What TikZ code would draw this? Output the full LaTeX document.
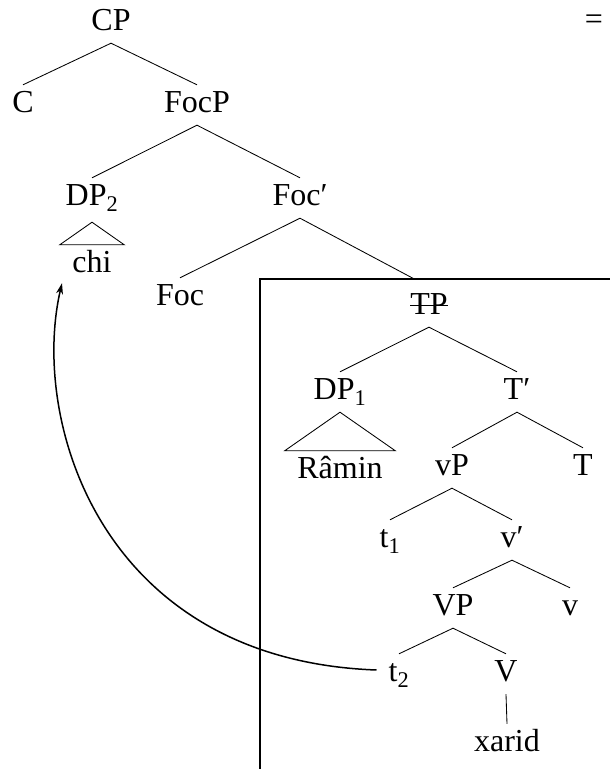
\documentclass[tikz,border=0pt]{standalone}
\usepackage{fontspec}
\setmainfont{Liberation Serif}
\usetikzlibrary{arrows.meta,calc}
\begin{document}
\begin{tikzpicture}[x=1pt,y=-1pt,
  lab/.style={inner xsep=0pt, inner ysep=6pt, text height=21pt, text depth=7pt, anchor=base, font=\fontsize{32}{38}\selectfont},
  edge/.style={line width=0.85pt},
  tri/.style={line width=0.85pt},
  boxline/.style={line width=1.1pt},
  move/.style={line width=1.5pt, -{Stealth[length=11pt,width=7pt]}}]
\useasboundingbox (0,0) rectangle (610,769);
% nodes
\node[lab] (CP) at (111,30) {CP};
\node[lab] (eq) at (594,29) {=};
\node[lab] (C) at (23,112) {C};
\node[lab] (FocP) at (197,112) {FocP};
\node[lab] (DPtwo) at (92,205) {DP\textsubscript{2}};
\node[lab] (Focbar) at (300,205) {Foc′};
\node[lab] (chi) at (92,272) {chi};
\node[lab] (Foc) at (180,305) {Foc};
\node[lab] (TP) at (429,314) {TP};
\node[lab] (DPone) at (340,399) {DP\textsubscript{1}};
\node[lab] (Tbar) at (517,399) {T′};
\node[lab] (Ramin) at (340,478) {Râmin};
\node[lab] (vP) at (452,475) {vP};
\node[lab] (T) at (583,475) {T};
\node[lab] (tone) at (390,547) {t\textsubscript{1}};
\node[lab] (vbar) at (512,547) {v′};
\node[lab] (VP) at (453,615) {VP};
\node[lab] (v) at (570,615) {v};
\node[lab] (ttwo) at (399,681) {t\textsubscript{2}};
\node[lab] (V) at (506,681) {V};
\node[lab] (xarid) at (507,751) {xarid};
% box
\draw[boxline] (260,769) -- (260,279) -- (610,279);
% edges
\draw[edge] (C.north) -- (CP.south) -- (FocP.north);
\draw[edge] (DPtwo.north) -- (FocP.south) -- (Focbar.north);
\draw[edge] (Foc.north) -- (Focbar.south);
\begin{scope}
\clip (0,0) rectangle (610,279);
\draw[edge] (Focbar.south) -- (TP.north);
\end{scope}
\draw[edge] (DPone.north) -- (TP.south) -- (Tbar.north);
\draw[edge] (vP.north) -- (Tbar.south) -- (T.north);
\draw[edge] (tone.north) -- (vP.south) -- (vbar.north);
\draw[edge] (VP.north) -- (vbar.south) -- (v.north);
\draw[edge] (ttwo.north) -- (VP.south) -- (V.north);
\draw[edge] (V.south) -- (xarid.north);
% triangles
\draw[tri] ([yshift=-4pt]DPtwo.south) -- ([xshift=-12.5pt]chi.north west) -- ([xshift=12.5pt]chi.north east) -- cycle;
\draw[tri] (DPone.south) -- ([xshift=-12.5pt]Ramin.north west) -- ([xshift=12.5pt]Ramin.north east) -- cycle;
% strike through TP
\draw[line width=0.9pt] ([yshift=9pt]TP.base west) -- ([yshift=9pt]TP.base east);
% movement arrow
\coordinate (mvstart) at ([xshift=-12pt,yshift=11pt]ttwo.base west);
\coordinate (mvend) at ([xshift=-30pt,yshift=2pt]chi.south);
\draw[move] (mvstart) .. controls (100,660) and (30,420) .. (mvend);
\end{tikzpicture}
\end{document}
